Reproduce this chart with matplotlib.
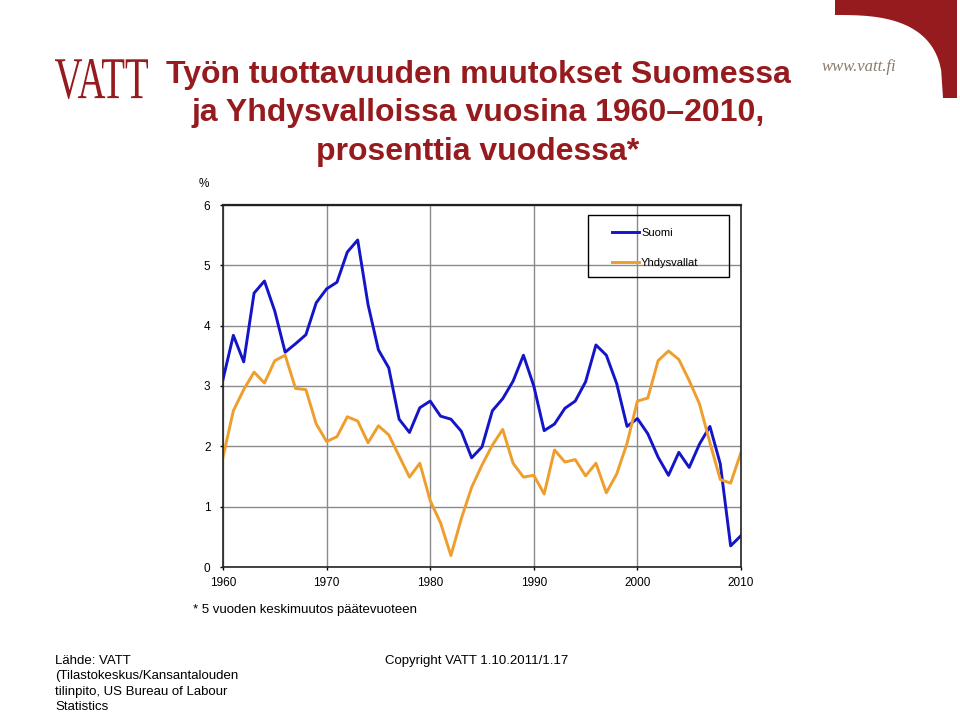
import matplotlib
matplotlib.use('Agg')
import matplotlib.pyplot as plt
from matplotlib.patches import Rectangle, Polygon, PathPatch
from matplotlib.textpath import TextPath
from matplotlib.font_manager import FontProperties
from matplotlib.transforms import Affine2D
import numpy as np

W, H = 960, 715

years = list(range(1960, 2011))
suomi = [3.11, 3.84, 3.40, 4.54, 4.74, 4.24, 3.56, 3.70, 3.85, 4.38,
         4.61, 4.72, 5.22, 5.42, 4.35, 3.60, 3.30, 2.45, 2.23, 2.64,
         2.75, 2.50, 2.45, 2.25, 1.81, 1.99, 2.59, 2.79, 3.08, 3.51,
         3.00, 2.26, 2.37, 2.63, 2.75, 3.07, 3.68, 3.51, 3.04, 2.33,
         2.46, 2.21, 1.82, 1.52, 1.90, 1.65, 2.04, 2.33, 1.71, 0.35,
         0.52]
usa = [1.82, 2.59, 2.94, 3.23, 3.05, 3.42, 3.51, 2.96, 2.94, 2.37,
       2.08, 2.16, 2.49, 2.42, 2.06, 2.34, 2.19, 1.84, 1.49, 1.72,
       1.10, 0.73, 0.19, 0.80, 1.32, 1.69, 2.02, 2.28, 1.72, 1.49,
       1.52, 1.21, 1.94, 1.74, 1.78, 1.51, 1.72, 1.23, 1.54, 2.05,
       2.75, 2.80, 3.42, 3.58, 3.44, 3.09, 2.70, 2.06, 1.45, 1.39,
       1.90]
x_ticks = [1960, 1970, 1980, 1990, 2000, 2010]
y_ticks = [0, 1, 2, 3, 4, 5, 6]

red = '#951b1e'
font = 'Liberation Sans'


def fx(px):
    return px / W


def fy(py):
    return 1 - py / H


fig = plt.figure(figsize=(W / 100, H / 100), dpi=100)
ax = fig.add_axes([fx(223), fy(567), fx(741) - fx(223), fy(205) - fy(567)])

ax.plot(years, suomi, color='#1414c8', lw=2.1, label='Suomi')
ax.plot(years, usa, color='#ee9e2c', lw=2.1, label='Yhdysvallat')

ax.set_xlim(1960, 2010)
ax.set_ylim(0, 6)
ax.set_xticks(x_ticks)
ax.set_yticks(y_ticks)
ax.tick_params(labelsize=8.5, length=2, width=1, color='black')
ax.tick_params(axis='y', pad=7)
ax.tick_params(axis='x', pad=5)
for lab in ax.get_xticklabels() + ax.get_yticklabels():
    lab.set_family(font)
ax.grid(True, color='#8a8a8a', lw=1)
ax.set_axisbelow(True)
for s in ax.spines.values():
    s.set_color('#222222')
    s.set_linewidth(1.2)
ax.spines['top'].set_linewidth(1.6)

leg = ax.legend(loc='upper left', bbox_to_anchor=(fx(606), fy(222)),
                bbox_transform=fig.transFigure, frameon=False,
                prop={'family': font, 'size': 8}, handlelength=2.5,
                handletextpad=0.15, labelspacing=1.85, borderpad=0)
fig.patches.append(Rectangle((fx(588), fy(277)), fx(729) - fx(588), fy(215) - fy(277),
                             transform=fig.transFigure, fill=False,
                             edgecolor='black', lw=1))

fig.text(fx(204), fy(184), '%', fontsize=8.5, family=font, ha='center', va='center')

# title
title_lines = ['Työn tuottavuuden muutokset Suomessa',
               'ja Yhdysvalloissa vuosina 1960\u20132010,',
               'prosenttia vuodessa*']
for line, base in zip(title_lines, [83, 121, 160]):
    fig.text(fx(478), fy(base), line, fontsize=23, family=font, weight='bold',
             color=red, ha='center', va='baseline')

# logo, squeezed into its box
tp = TextPath((0, 0), 'VATT', size=40, prop=FontProperties(family='Liberation Serif'))
ext = tp.get_extents()
sx = (fx(148) - fx(55)) / ext.width
sy = (fy(59) - fy(99)) / ext.height
tr = Affine2D().translate(-ext.x0, -ext.y0).scale(sx, sy).translate(fx(55), fy(99))
fig.patches.append(PathPatch(tr.transform_path(tp), transform=fig.transFigure,
                             facecolor=red, edgecolor='none'))

fig.text(fx(822), fy(71), 'www.vatt.fi', fontsize=12, family='Liberation Serif',
         style='italic', color='#8a7b6c', ha='left', va='baseline')

# corner decoration
u = np.linspace(0, 1, 60)
v = (1 - u ** 2.8) ** (1 / 2.8)
inner = [(fx(835 + 108 * a), fy(98 - 83 * b)) for a, b in zip(u, v)]
corner = [(fx(835), fy(0)), (fx(957), fy(0)), (fx(957), fy(98))] + inner[::-1]
fig.patches.append(Polygon(corner, closed=True, transform=fig.transFigure,
                           facecolor=red, edgecolor='none'))

# notes
fig.text(fx(193), fy(610), '* 5 vuoden keskimuutos päätevuoteen', fontsize=9.5,
         family=font, ha='left', va='center')
fig.text(fx(55), fy(655), 'Lähde: VATT\n(Tilastokeskus/Kansantalouden\ntilinpito, US Bureau of Labour\nStatistics',
         fontsize=9.5, family=font, ha='left', va='top', linespacing=1.38)
fig.text(fx(385), fy(655), 'Copyright VATT 1.10.2011/1.17', fontsize=9.5,
         family=font, ha='left', va='top')

fig.savefig('out.png', dpi=100)
